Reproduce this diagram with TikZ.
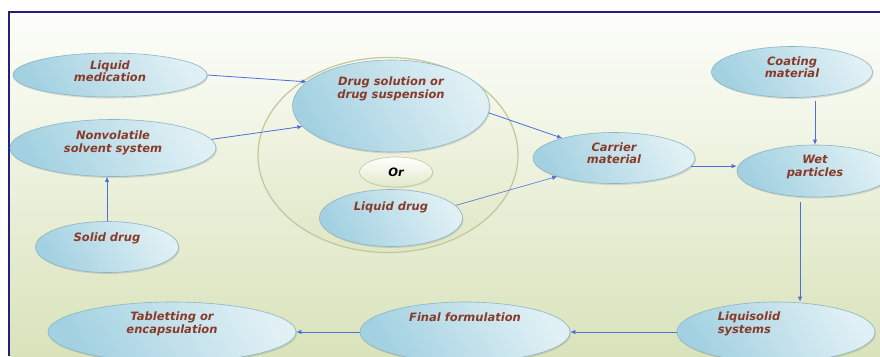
\documentclass[tikz,border=0pt]{standalone}
\usepackage{fontspec}
\setmainfont{DejaVu Sans}
\usepackage{tikz}
\usetikzlibrary{arrows.meta,shapes.geometric,shadows}
\definecolor{liqblue}{HTML}{A3D1E1}
\definecolor{liqpale}{HTML}{E0F0F5}
\definecolor{liqedge}{HTML}{8BB5C2}
\definecolor{liqtext}{HTML}{8A3A28}
\definecolor{liqarrow}{HTML}{4D6EDD}
\definecolor{liqolive}{HTML}{C2C799}
\definecolor{liqcream}{HTML}{F7F7EA}
\definecolor{liqsage}{HTML}{D9E3BB}
\definecolor{liqtop}{HTML}{FDFEFB}
\definecolor{liqframe}{HTML}{22227A}

\begin{document}
\begin{tikzpicture}[x=1pt, y=1pt,
  font=\fontsize{11.5}{12.5}\selectfont\bfseries\itshape,
  blob/.style={ellipse, inner sep=0pt, draw=liqedge, line width=0.6pt,
               left color=liqblue, right color=liqpale, shading angle=120,
               drop shadow={opacity=0.25, shadow xshift=1pt, shadow yshift=-1.5pt}},
  orblob/.style={ellipse, inner sep=0pt, draw=liqolive, line width=0.6pt,
                 top color=white, bottom color=liqsage!80,
                 drop shadow={opacity=0.2, shadow xshift=1pt, shadow yshift=-1pt}},
  lbl/.style={text=liqtext, align=center},
  arrow/.style={-{Latex[length=5pt,width=4.5pt]}, draw=liqarrow, line width=0.8pt}
]
\useasboundingbox (0,0) rectangle (880,356);
\clip (0,0) rectangle (880,356);

% backdrop and frame
\fill[white] (0,0) rectangle (880,356);
\shade[top color=liqtop, bottom color=liqsage] (9,0) rectangle (880,344);
\draw[liqframe, line width=1.2pt] (9,0) -- (9,344) -- (880,344);

% the "either / or" ring
\node[ellipse, draw=liqolive, line width=1.2pt, top color=liqcream!60, bottom color=liqsage!85,
      minimum width=260, minimum height=195] (ring) at (388,201) {};

% ellipses
\node[blob, minimum width=194, minimum height=44] (lmed) at (110,281) {};
\node[blob, minimum width=206, minimum height=57] (nvs) at (113,208) {};
\node[blob, minimum width=143, minimum height=51] (solid) at (107,109) {};
\node[blob, minimum width=197, minimum height=92] (dsol) at (391,250) {};
\node[orblob, minimum width=73, minimum height=30] (orn) at (396,184) {};
\node[blob, minimum width=143, minimum height=57] (ldrug) at (391,138) {};
\node[blob, minimum width=162, minimum height=51] (carr) at (614,198) {};
\node[blob, minimum width=161, minimum height=51] (coat) at (792,284) {};
\node[blob, minimum width=156, minimum height=52] (wet) at (815,185) {};
\node[blob, minimum width=198, minimum height=60] (lsys) at (776,24) {};
\node[blob, minimum width=210, minimum height=60] (final) at (465,24) {};
\node[blob, minimum width=248, minimum height=60] (tab) at (172,24) {};

% labels, set a little above each centre
\node[lbl] (lmed-l) at ([yshift=4]lmed.center) {Liquid\\medication};
\node[lbl] (nvs-l) at ([yshift=5]nvs.center) {Nonvolatile\\solvent system};
\node[lbl] (solid-l) at ([yshift=9]solid.center) {Solid drug};
\node[lbl] (dsol-l) at ([yshift=17]dsol.center) {Drug solution or\\drug suspension};
\node[text=black] (orn-l) at (orn.center) {Or};
\node[lbl] (ldrug-l) at ([yshift=11]ldrug.center) {Liquid drug};
\node[lbl] (carr-l) at ([yshift=5]carr.center) {Carrier\\material};
\node[lbl] (coat-l) at ([yshift=5]coat.center) {Coating\\material};
\node[lbl] (wet-l) at ([yshift=4]wet.center) {Wet\\particles};
\node[lbl, align=left] (lsys-l) at ([xshift=-27,yshift=8]lsys.center) {Liquisolid\\systems};
\node[lbl] (final-l) at ([yshift=15]final.center) {Final formulation};
\node[lbl] (tab-l) at ([yshift=8]tab.center) {Tabletting or\\encapsulation};

% connectors
\draw[arrow] (lmed.east) -- (dsol.164);
\draw[arrow] (nvs.5) -- (dsol.193);
\draw[arrow] (solid.north) -- (solid.north |- nvs.south);
\draw[arrow] (dsol.356) -- (carr.159);
\draw[arrow, line width=0.6pt] (ldrug.11) -- (carr.198);
\draw[arrow] (carr.354) -- (carr.354 -| wet.west);
\draw[arrow, shorten <=3pt] (wet.north |- coat.south) -- (wet.north);
\draw[arrow, shorten <=5pt] ([xshift=-15]wet.south) -- ([xshift=-15]wet.south |- lsys.north);
\draw[arrow] (lsys.west) -- (final.east);
\draw[arrow] (final.west) -- (tab.east);
\end{tikzpicture}
\end{document}
